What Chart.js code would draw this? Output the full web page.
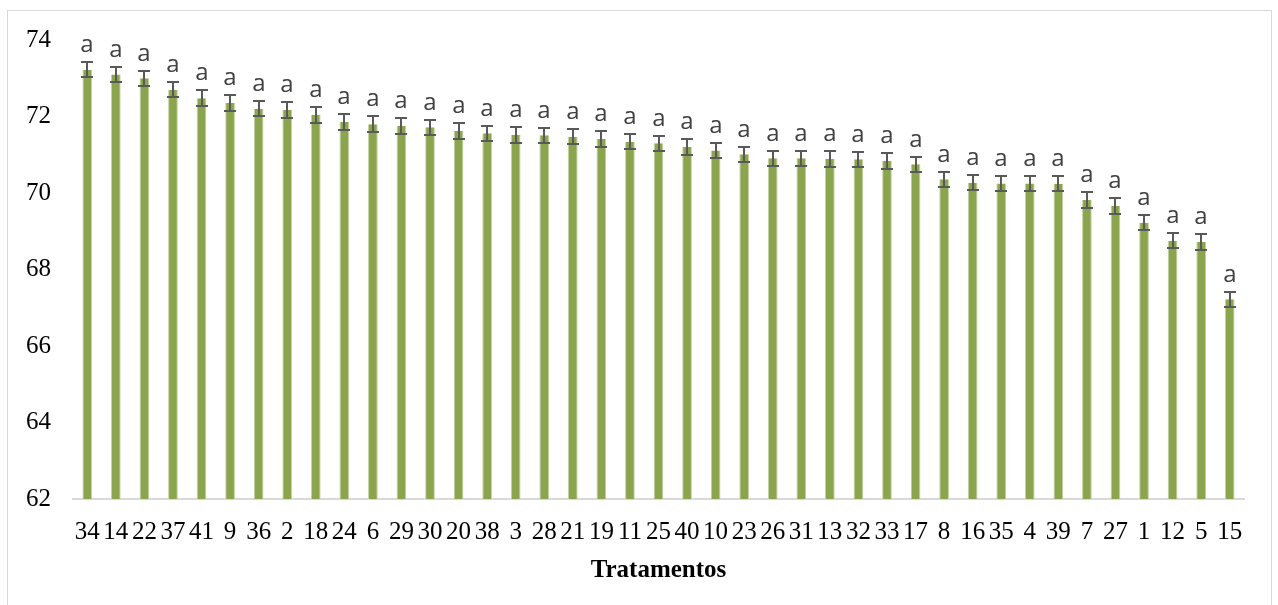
<!DOCTYPE html>
<html>
<head>
<meta charset="utf-8">
<script src="https://cdn.jsdelivr.net/npm/chart.js@4.4.1/dist/chart.umd.min.js"></script>
<style>
  html, body { margin: 0; padding: 0; background: #fff; }
  #wrap { width: 1278px; height: 605px; position: relative; }
</style>
</head>
<body>
<div id="wrap"><canvas id="chart" width="1278" height="605"></canvas></div>
<script>
// Data
const treatments = ["34","14","22","37","41","9","36","2","18","24","6","29","30","20","38","3","28","21","19","11","25","40","10","23","26","31","13","32","33","17","8","16","35","4","39","7","27","1","12","5","15"];
const means = [73.22,73.10,73.00,72.70,72.48,72.35,72.20,72.17,72.04,71.86,71.80,71.75,71.72,71.62,71.56,71.52,71.51,71.47,71.41,71.34,71.30,71.20,71.11,71.01,70.91,70.91,70.89,70.88,70.84,70.75,70.36,70.27,70.25,70.25,70.24,69.82,69.66,69.22,68.75,68.72,67.22];
const errors = Array(41).fill(0.2);
const letters = Array(41).fill("a");
const yTicks = [62, 64, 66, 68, 70, 72, 74];

// error bars + letters + frame
const extras = {
  id: "extras",
  beforeDraw(chart) {
    const c = chart.ctx;
    c.save();
    c.fillStyle = "#fff";
    c.fillRect(0, 0, chart.width, chart.height);
    c.strokeStyle = "#d9d9d9";
    c.lineWidth = 1;
    c.strokeRect(7.5, 10.5, 1264, 620);
    c.restore();
  },
  afterDatasetsDraw(chart) {
    const c = chart.ctx;
    const x = chart.scales.x, y = chart.scales.y;
    c.save();
    c.strokeStyle = "#595959";
    c.lineWidth = 2;
    c.fillStyle = "#404040";
    c.font = "24px 'Open Sans'";
    c.textAlign = "center";
    c.textBaseline = "alphabetic";
    means.forEach((v, i) => {
      const px = Math.round(x.getPixelForValue(i));
      const top = Math.round(y.getPixelForValue(v + errors[i]));
      const bot = Math.round(y.getPixelForValue(v - errors[i]));
      c.beginPath();
      c.moveTo(px, top); c.lineTo(px, bot);
      c.moveTo(px - 6, top); c.lineTo(px + 6, top);
      c.moveTo(px - 6, bot); c.lineTo(px + 6, bot);
      c.stroke();
      c.fillText(letters[i], px, top - 10);
    });
    c.restore();
  }
};

new Chart(document.getElementById("chart").getContext("2d"), {
  type: "bar",
  data: {
    labels: treatments,
    datasets: [{
      data: means,
      backgroundColor: "#8aa54e",
      borderColor: "#c2d3a0",
      borderWidth: { left: 1, right: 1, top: 0, bottom: 0 },
      barPercentage: 0.68,
      categoryPercentage: 0.5,
    }],
  },
  options: {
    responsive: false,
    animation: false,
    layout: { padding: { top: 40, left: 0, right: 34, bottom: 0 } },
    plugins: { legend: { display: false }, tooltip: { enabled: false } },
    scales: {
      x: {
        grid: { display: false, drawTicks: false },
        border: { display: true, color: "#d9d9d9", width: 2 },
        ticks: {
          autoSkip: false, maxRotation: 0, minRotation: 0, padding: 18,
          color: "#000", font: { family: "'Liberation Serif'", size: 25 },
        },
        title: {
          display: true, text: "Tratamentos", color: "#000",
          font: { family: "'Liberation Serif'", size: 25, weight: "bold" },
          padding: { top: 0, bottom: 19 },
        },
        afterFit(scale) { scale.height = 106; },
      },
      y: {
        min: 62, max: 74,
        afterBuildTicks(scale) { scale.ticks = yTicks.map(v => ({ value: v })); },
        grid: { display: false, drawTicks: false },
        border: { display: false },
        ticks: {
          padding: 22, color: "#000",
          font: { family: "'Liberation Serif'", size: 25 },
        },
        afterFit(scale) { scale.width = 73; },
      },
    },
  },
  plugins: [extras],
});
</script>
</body>
</html>
